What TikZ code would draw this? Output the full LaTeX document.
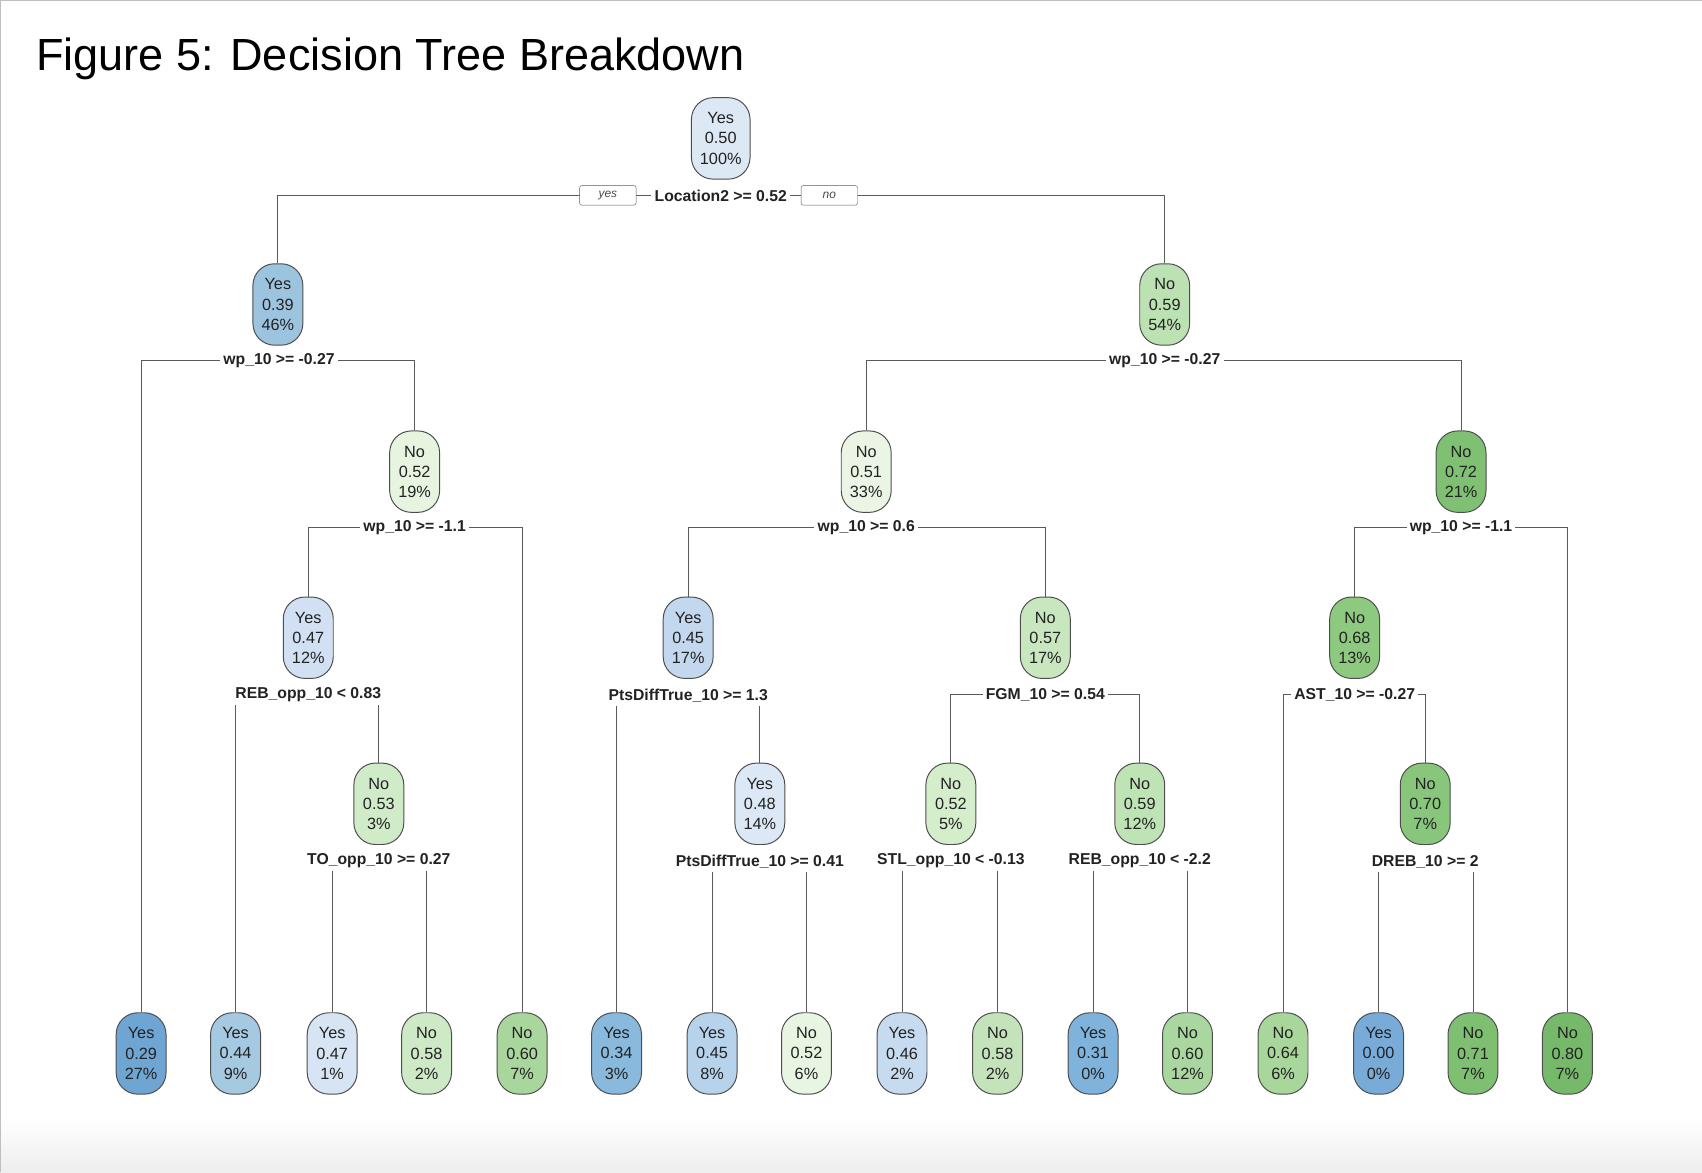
\documentclass[tikz,border=0pt]{standalone}
\usepackage{fontspec}
\setmainfont{Liberation Sans}
\pgfdeclarelayer{bg}
\pgfsetlayers{bg,main}
\definecolor{edgec}{HTML}{5A5A5A}
\definecolor{nodeb}{HTML}{4D4D4D}
\definecolor{txt}{HTML}{222222}
\begin{document}
\begin{tikzpicture}[x=1pt,y=-1pt,
  tn/.style={draw=nodeb, line width=0.9pt, rounded corners=20pt, minimum width=46pt, minimum height=75pt, inner sep=0pt, align=center, font=\fontsize{15}{18.5}\selectfont, text=txt},
  lab/.style={fill=white, inner sep=3pt, font=\fontsize{14.5}{16}\selectfont\bfseries, text=txt},
  yn/.style={draw=edgec, fill=white, rounded corners=2pt, minimum width=52pt, minimum height=18pt, inner sep=0pt, font=\fontsize{11}{12}\selectfont\itshape, text=black!70},
  conn/.style={draw=edgec, line width=0.9pt}]
% canvas
\useasboundingbox (0,0) rectangle (1568,1080);
\shade[top color=white, bottom color=black!7] (0,1030) rectangle (1568,1080);
\draw[black!25, line width=1.2pt] (0.6,1080) -- (0.6,0.6) -- (1568,0.6);
% title
\node[anchor=base west, inner sep=0pt, font=\fontsize{41.5}{48}\selectfont, text=black] (title) at (33,65) {Figure 5: Decision Tree Breakdown};
% internal nodes
\node[tn, minimum width=54pt, fill={rgb,255:red,221;green,232;blue,245}] (r) at (664,127.5) {Yes\\0.50\\100\%};
\node[tn, fill={rgb,255:red,157;green,196;blue,223}] (n1) at (256,280.5) {Yes\\0.39\\46\%};
\node[tn, fill={rgb,255:red,188;green,225;blue,179}] (n2) at (1073,280.5) {No\\0.59\\54\%};
\node[tn, fill={rgb,255:red,230;green,244;blue,224}] (n3) at (382,434.5) {No\\0.52\\19\%};
\node[tn, fill={rgb,255:red,234;green,245;blue,229}] (n4) at (798,434.5) {No\\0.51\\33\%};
\node[tn, fill={rgb,255:red,128;green,192;blue,115}] (n5) at (1346,434.5) {No\\0.72\\21\%};
\node[tn, fill={rgb,255:red,209;green,225;blue,243}] (n6) at (284,587.5) {Yes\\0.47\\12\%};
\node[tn, fill={rgb,255:red,195;green,216;blue,238}] (n7) at (634,587.5) {Yes\\0.45\\17\%};
\node[tn, fill={rgb,255:red,200;green,231;blue,191}] (n8) at (963,587.5) {No\\0.57\\17\%};
\node[tn, fill={rgb,255:red,141;green,202;blue,128}] (n9) at (1248,587.5) {No\\0.68\\13\%};
\node[tn, fill={rgb,255:red,208;green,235;blue,199}] (n10) at (349,740.5) {No\\0.53\\3\%};
\node[tn, fill={rgb,255:red,220;green,232;blue,246}] (n11) at (700,740.5) {Yes\\0.48\\14\%};
\node[tn, fill={rgb,255:red,212;green,237;blue,203}] (n12) at (876,740.5) {No\\0.52\\5\%};
\node[tn, fill={rgb,255:red,190;green,227;blue,180}] (n13) at (1050,740.5) {No\\0.59\\12\%};
\node[tn, fill={rgb,255:red,136;green,198;blue,123}] (n14) at (1313,740.5) {No\\0.70\\7\%};
% leaves
\node[tn, fill={rgb,255:red,111;green,165;blue,210}] (l1) at (130,970.5) {Yes\\0.29\\27\%};
\node[tn, fill={rgb,255:red,166;green,201;blue,226}] (l2) at (217,970.5) {Yes\\0.44\\9\%};
\node[tn, fill={rgb,255:red,214;green,228;blue,244}] (l3) at (306,970.5) {Yes\\0.47\\1\%};
\node[tn, fill={rgb,255:red,205;green,233;blue,197}] (l4) at (393,970.5) {No\\0.58\\2\%};
\node[tn, fill={rgb,255:red,169;green,214;blue,157}] (l5) at (481,970.5) {No\\0.60\\7\%};
\node[tn, fill={rgb,255:red,137;green,185;blue,220}] (l6) at (568,970.5) {Yes\\0.34\\3\%};
\node[tn, fill={rgb,255:red,183;green,210;blue,235}] (l7) at (656,970.5) {Yes\\0.45\\8\%};
\node[tn, fill={rgb,255:red,232;green,245;blue,226}] (l8) at (743,970.5) {No\\0.52\\6\%};
\node[tn, fill={rgb,255:red,199;green,219;blue,240}] (l9) at (831,970.5) {Yes\\0.46\\2\%};
\node[tn, fill={rgb,255:red,196;green,227;blue,187}] (l10) at (919,970.5) {No\\0.58\\2\%};
\node[tn, fill={rgb,255:red,128;green,179;blue,220}] (l11) at (1007,970.5) {Yes\\0.31\\0\%};
\node[tn, fill={rgb,255:red,170;green,215;blue,159}] (l12) at (1094,970.5) {No\\0.60\\12\%};
\node[tn, fill={rgb,255:red,168;green,214;blue,155}] (l13) at (1182,970.5) {No\\0.64\\6\%};
\node[tn, fill={rgb,255:red,120;green,171;blue,216}] (l14) at (1270,970.5) {Yes\\0.00\\0\%};
\node[tn, fill={rgb,255:red,126;green,191;blue,113}] (l15) at (1357,970.5) {No\\0.71\\7\%};
\node[tn, fill={rgb,255:red,118;green,185;blue,106}] (l16) at (1444,970.5) {No\\0.80\\7\%};
% split labels
\node[lab] (s0) at (664,180) {Location2 >= 0.52};
\node[yn] (yes) at (560,180) {yes};
\node[yn] (no) at (764,180) {no};
\node[lab] (s1) at (257,332) {wp\_10 >= -0.27};
\node[lab] (s2) at (1073,332) {wp\_10 >= -0.27};
\node[lab] (s3) at (382,486) {wp\_10 >= -1.1};
\node[lab] (s4) at (798,486) {wp\_10 >= 0.6};
\node[lab] (s5) at (1346,486) {wp\_10 >= -1.1};
\node[lab] (s6) at (284,640) {REB\_opp\_10 < 0.83};
\node[lab] (s7) at (634,641) {PtsDiffTrue\_10 >= 1.3};
\node[lab] (s8) at (963,640) {FGM\_10 >= 0.54};
\node[lab] (s9) at (1248,640) {AST\_10 >= -0.27};
\node[lab] (s10) at (349,793) {TO\_opp\_10 >= 0.27};
\node[lab] (s11) at (700,794) {PtsDiffTrue\_10 >= 0.41};
\node[lab] (s12) at (876,793) {STL\_opp\_10 < -0.13};
\node[lab] (s13) at (1050,793) {REB\_opp\_10 < -2.2};
\node[lab] (s14) at (1313,794) {DREB\_10 >= 2};
% connectors
\begin{pgfonlayer}{bg}
\draw[conn] (s0.center) -| (n1.north);
\draw[conn] (s0.center) -| (n2.north);
\draw[conn] (s1.center) -| (l1.north);
\draw[conn] (s1.center) -| (n3.north);
\draw[conn] (s2.center) -| (n4.north);
\draw[conn] (s2.center) -| (n5.north);
\draw[conn] (s3.center) -| (n6.north);
\draw[conn] (s3.center) -| (l5.north);
\draw[conn] (s4.center) -| (n7.north);
\draw[conn] (s4.center) -| (n8.north);
\draw[conn] (s5.center) -| (n9.north);
\draw[conn] (s5.center) -| (l16.north);
\draw[conn] (s6.center) -| (l2.north);
\draw[conn] (s6.center) -| (n10.north);
\draw[conn] (s7.center) -| (l6.north);
\draw[conn] (s7.center) -| (n11.north);
\draw[conn] (s8.center) -| (n12.north);
\draw[conn] (s8.center) -| (n13.north);
\draw[conn] (s9.center) -| (l13.north);
\draw[conn] (s9.center) -| (n14.north);
\draw[conn] (s10.center) -| (l3.north);
\draw[conn] (s10.center) -| (l4.north);
\draw[conn] (s11.center) -| (l7.north);
\draw[conn] (s11.center) -| (l8.north);
\draw[conn] (s12.center) -| (l9.north);
\draw[conn] (s12.center) -| (l10.north);
\draw[conn] (s13.center) -| (l11.north);
\draw[conn] (s13.center) -| (l12.north);
\draw[conn] (s14.center) -| (l14.north);
\draw[conn] (s14.center) -| (l15.north);
\end{pgfonlayer}
\end{tikzpicture}
\end{document}
